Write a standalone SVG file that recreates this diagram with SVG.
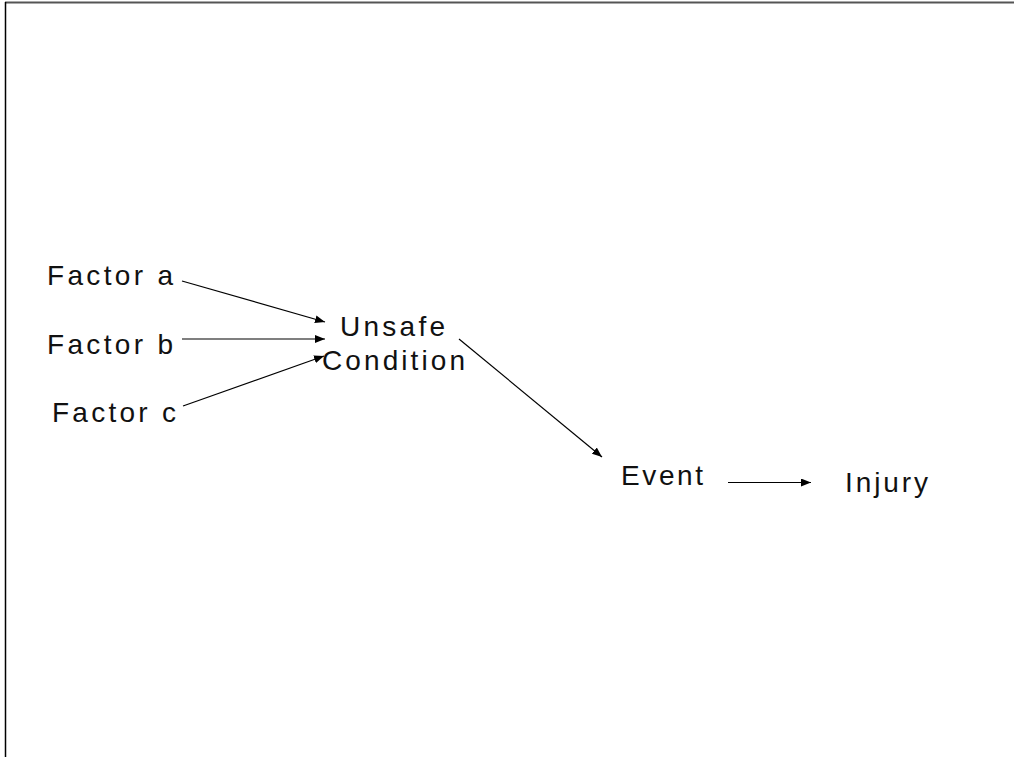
<svg xmlns="http://www.w3.org/2000/svg" width="1014" height="759" viewBox="0 0 1014 759">
<style>
text{font-family:"Liberation Sans",Arial,sans-serif;font-size:28px;fill:#111}
.c{stroke:#000;stroke-width:1.2;fill:none;marker-end:url(#ah)}
</style>
<defs>
<marker id="ah" viewBox="0 0 10 8" refX="10" refY="4" markerWidth="10" markerHeight="8" markerUnits="userSpaceOnUse" orient="auto">
<path d="M0,0 L10,4 L0,8 Z" fill="#000"/>
</marker>
</defs>
<rect width="1014" height="759" fill="#fff"/>
<line x1="5" y1="2.5" x2="1014" y2="2.5" stroke="#555" stroke-width="2"/>
<line x1="5.5" y1="2" x2="5.5" y2="757" stroke="#000" stroke-width="1.5"/>
<g id="factor-a"><text x="47" y="285" textLength="126" lengthAdjust="spacing">Factor a</text></g>
<g id="factor-b"><text x="47" y="354" textLength="126" lengthAdjust="spacing">Factor b</text></g>
<g id="factor-c"><text x="52" y="422" textLength="124" lengthAdjust="spacing">Factor c</text></g>
<g id="unsafe-condition">
<text x="340" y="336" textLength="105" lengthAdjust="spacing">Unsafe</text>
<text x="322" y="370" textLength="143" lengthAdjust="spacing">Condition</text>
</g>
<g id="event"><text x="621" y="485" textLength="82" lengthAdjust="spacing">Event</text></g>
<g id="injury"><text x="845" y="492" textLength="83" lengthAdjust="spacing">Injury</text></g>
<g id="connectors">
<line class="c" x1="182" y1="281" x2="325" y2="322"/>
<line class="c" x1="182" y1="339" x2="325" y2="339"/>
<line class="c" x1="183" y1="406" x2="324" y2="356"/>
<line class="c" x1="459" y1="339" x2="602" y2="457"/>
<line class="c" x1="728" y1="482.5" x2="811" y2="482.5"/>
</g>
</svg>
